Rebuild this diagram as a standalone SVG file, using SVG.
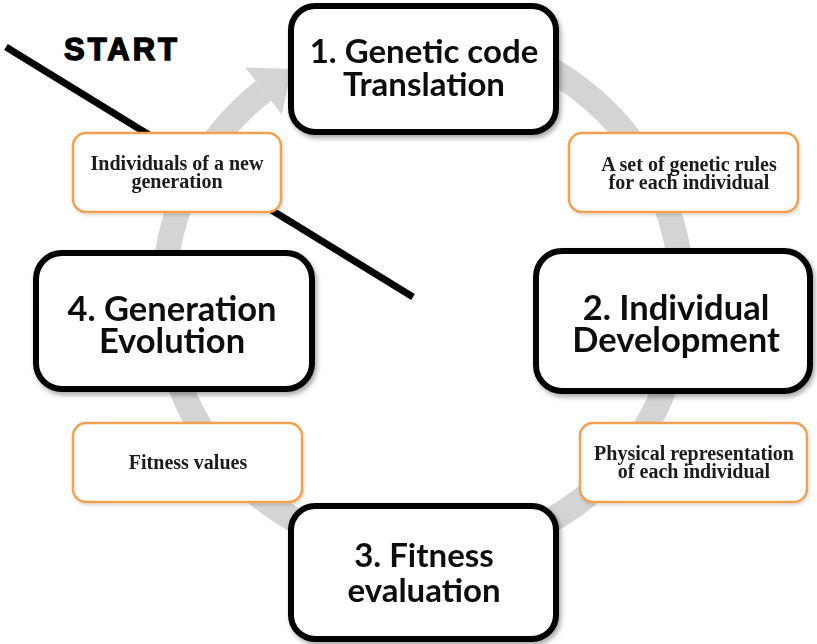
<svg xmlns="http://www.w3.org/2000/svg" width="817" height="644" viewBox="0 0 817 644">
  <defs>
    <filter id="shadow" x="-10%" y="-10%" width="125%" height="130%">
      <feDropShadow dx="2" dy="3" stdDeviation="2.5" flood-color="#000" flood-opacity="0.35"/>
    </filter>
    <filter id="oshadow" x="-10%" y="-10%" width="125%" height="130%">
      <feDropShadow dx="1" dy="2" stdDeviation="1.5" flood-color="#000" flood-opacity="0.15"/>
    </filter>
  </defs>
  <style>
    .main rect { fill: #ffffff; stroke: #000000; stroke-width: 6; }
    .main text { font-family: Lato, "Open Sans", sans-serif; font-weight: bold; font-size: 33px; fill: #111111; text-anchor: middle; }
    .big text { font-size: 34.5px; }
    .lbl rect { fill: #ffffff; stroke: #f2a052; stroke-width: 2.5; }
    .lbl text { font-family: "Liberation Serif", serif; font-weight: bold; font-size: 20px; fill: #1a1a1a; text-anchor: middle; }
    .ring { fill: none; stroke: #d4d4d4; stroke-width: 25; }
    .start { stroke: #000000; stroke-width: 7; }
  </style>
  <rect width="817" height="644" fill="#ffffff"/>

  <g id="connectors">
    <path class="ring" d="M 334.4 51.6 A 259 259 0 1 1 263.5 90.9"/>
    <polygon points="245.2,67.4 291.5,69.0 281.8,114.4" fill="#d4d4d4"/>
    <line class="start" x1="6" y1="47" x2="413" y2="297"/>
  </g>

  <g id="start-label">
    <text x="122" y="60" font-family="'Liberation Sans', Arial, sans-serif" font-weight="bold" font-size="31" letter-spacing="3" stroke="#000" stroke-width="1.4" text-anchor="middle" fill="#000">START</text>
  </g>

  <g id="node1" class="main" filter="url(#shadow)">
    <rect x="291" y="6" width="265" height="126" rx="24"/>
    <text x="424" y="63"><tspan x="424" y="63">1. Genetic code</tspan><tspan x="424" y="96">Translation</tspan></text>
  </g>

  <g id="node2" class="main big" filter="url(#shadow)">
    <rect x="536" y="251" width="274" height="140" rx="26"/>
    <text x="676" y="320"><tspan x="676" y="320">2. Individual</tspan><tspan x="676" y="352">Development</tspan></text>
  </g>

  <g id="node3" class="main" filter="url(#shadow)">
    <rect x="291" y="506" width="265" height="133" rx="24"/>
    <text x="424" y="567"><tspan x="424" y="567">3. Fitness</tspan><tspan x="424" y="602">evaluation</tspan></text>
  </g>

  <g id="node4" class="main big" filter="url(#shadow)">
    <rect x="36" y="253" width="276" height="136" rx="26"/>
    <text x="172" y="321"><tspan x="172" y="321">4. Generation</tspan><tspan x="172" y="353">Evolution</tspan></text>
  </g>

  <g id="label-new-generation" class="lbl" filter="url(#oshadow)">
    <rect x="73" y="133" width="208" height="79" rx="13"/>
    <text x="177" y="170"><tspan x="177" y="170">Individuals of a new</tspan><tspan x="177" y="188">generation</tspan></text>
  </g>

  <g id="label-genetic-rules" class="lbl" filter="url(#oshadow)">
    <rect x="569" y="133" width="229" height="79" rx="13"/>
    <text x="689" y="171"><tspan x="689" y="171">A set of genetic rules</tspan><tspan x="689" y="189">for each individual</tspan></text>
  </g>

  <g id="label-physical" class="lbl" filter="url(#oshadow)">
    <rect x="580" y="423" width="227" height="79" rx="13"/>
    <text x="694" y="460"><tspan x="694" y="460">Physical representation</tspan><tspan x="694" y="478">of each individual</tspan></text>
  </g>

  <g id="label-fitness" class="lbl" filter="url(#oshadow)">
    <rect x="73" y="423" width="229" height="79" rx="13"/>
    <text x="188" y="469">Fitness values</text>
  </g>
</svg>
